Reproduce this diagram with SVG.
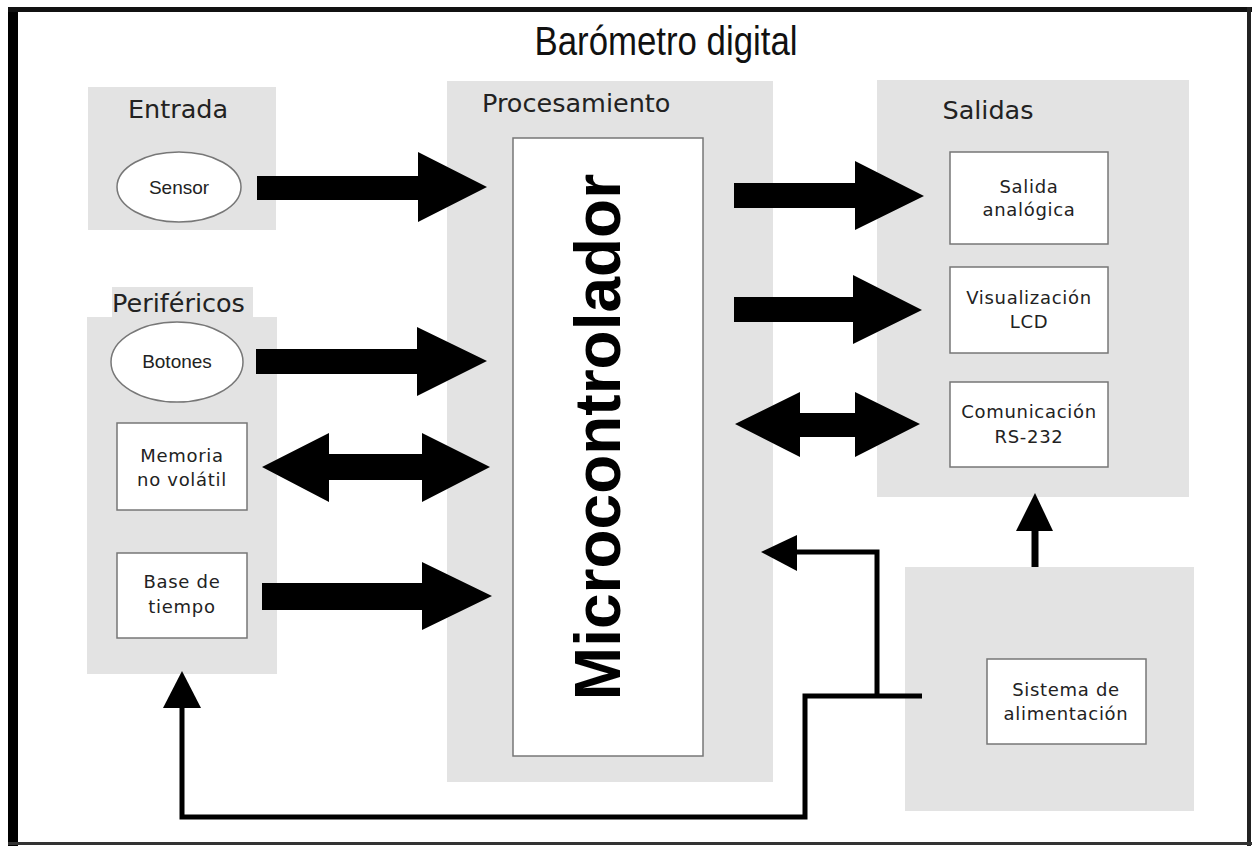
<svg xmlns="http://www.w3.org/2000/svg" width="1253" height="846" viewBox="0 0 1253 846">
<style>
.grp{fill:#e3e3e3}
.box{fill:#fff;stroke:#777;stroke-width:1.5}
.hdr{font-family:"DejaVu Sans",sans-serif;font-size:25.5px;fill:#222}
.lbl{font-family:"DejaVu Sans",sans-serif;font-size:18px;letter-spacing:0.7px;fill:#222;text-anchor:middle}
.ell{font-family:"Liberation Sans",Arial,sans-serif;font-size:19px;fill:#222;text-anchor:middle}
.arr{fill:#000}
.wire{fill:none;stroke:#000;stroke-width:5}
</style>
<rect width="1253" height="846" fill="#fff"/>
<g id="frame">
<rect x="8" y="7" width="10" height="839" fill="#000"/>
<rect x="8" y="7" width="1244" height="5" fill="#111"/>
<rect x="1247" y="7" width="4" height="839" fill="#222"/>
<rect x="8" y="842" width="1244" height="3" fill="#333"/>
</g>
<text id="title" x="666" y="55" font-family="Liberation Sans, Arial, sans-serif" font-size="40" text-anchor="middle" textLength="263" lengthAdjust="spacingAndGlyphs" fill="#111">Barómetro digital</text>

<g id="entrada">
<rect class="grp" x="88" y="87" width="188" height="143"/>
<text class="hdr" x="178" y="118" text-anchor="middle">Entrada</text>
</g>
<g id="sensor">
<ellipse class="box" cx="179" cy="187" rx="62" ry="35"/>
<text class="ell" x="179" y="194">Sensor</text>
</g>

<g id="perifericos">
<rect class="grp" x="112" y="287" width="141" height="31"/>
<rect class="grp" x="87" y="317" width="190" height="357"/>
<text class="hdr" x="112" y="312">Periféricos</text>
</g>
<g id="botones">
<ellipse class="box" cx="177" cy="362" rx="66" ry="40"/>
<text class="ell" x="177" y="368">Botones</text>
</g>
<g id="memoria">
<rect class="box" x="117" y="423" width="130" height="87"/>
<text class="lbl" x="182" y="462">Memoria</text>
<text class="lbl" x="182" y="486">no volátil</text>
</g>
<g id="base">
<rect class="box" x="117" y="553" width="130" height="85"/>
<text class="lbl" x="182" y="588">Base de</text>
<text class="lbl" x="182" y="613">tiempo</text>
</g>

<g id="procesamiento">
<rect class="grp" x="447" y="81" width="326" height="701"/>
<text class="hdr" x="482" y="112">Procesamiento</text>
</g>
<g id="microcontrolador">
<rect class="box" x="513" y="138" width="190" height="618"/>
<text x="620" y="437" transform="rotate(-90 620 437)" font-family="Liberation Sans, Arial, sans-serif" font-size="64" font-weight="bold" text-anchor="middle" fill="#000">Microcontrolador</text>
</g>

<g id="salidas">
<rect class="grp" x="877" y="80" width="312" height="417"/>
<text class="hdr" x="988" y="119" text-anchor="middle">Salidas</text>
</g>
<g id="salida-analogica">
<rect class="box" x="950" y="152" width="158" height="92"/>
<text class="lbl" x="1029" y="193">Salida</text>
<text class="lbl" x="1029" y="216">analógica</text>
</g>
<g id="visualizacion">
<rect class="box" x="950" y="267" width="158" height="86"/>
<text class="lbl" x="1029" y="304">Visualización</text>
<text class="lbl" x="1029" y="328">LCD</text>
</g>
<g id="comunicacion">
<rect class="box" x="950" y="382" width="158" height="85"/>
<text class="lbl" x="1029" y="418">Comunicación</text>
<text class="lbl" x="1029" y="443">RS-232</text>
</g>

<g id="alimentacion">
<rect class="grp" x="905" y="567" width="289" height="244"/>
<rect class="box" x="987" y="659" width="159" height="85"/>
<text class="lbl" x="1066" y="696">Sistema de</text>
<text class="lbl" x="1066" y="720">alimentación</text>
</g>

<g id="connectors">
<polygon class="arr" points="257,176 418,176 418,152 487,187 418,222 418,200 257,200"/>
<polygon class="arr" points="256,349 417,349 417,327 487,361 417,396 417,374 256,374"/>
<polygon class="arr" points="262,467 329,433 329,454 422,454 422,433 490,467 422,502 422,480 329,480 329,502"/>
<polygon class="arr" points="262,583 422,583 422,562 492,596 422,630 422,610 262,610"/>
<polygon class="arr" points="734,183 855,183 855,161 924,196 855,230 855,208 734,208"/>
<polygon class="arr" points="734,297 853,297 853,275 922,310 853,344 853,322 734,322"/>
<polygon class="arr" points="735,424 800,392 800,413 855,413 855,392 920,424 855,457 855,437 800,437 800,457"/>
<line x1="1035" y1="567" x2="1035" y2="528" stroke="#000" stroke-width="7"/>
<polygon class="arr" points="1035,493 1053,531 1016,531"/>
<path class="wire" d="M922 696 H805 V817 H182 V704"/>
<polygon class="arr" points="182,671 201,708 163,708"/>
<path class="wire" d="M877 696 V552 H795"/>
<polygon class="arr" points="761,552 797,535 797,571"/>
</g>
</svg>
